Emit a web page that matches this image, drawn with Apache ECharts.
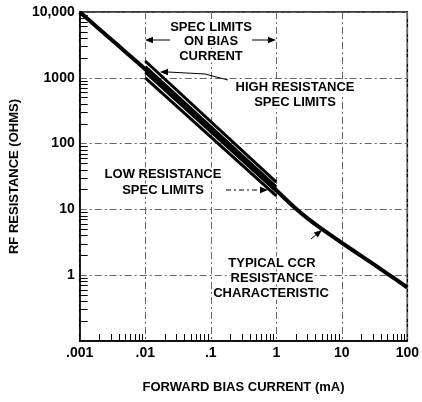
<!DOCTYPE html>
<html><head><meta charset="utf-8">
<script src="https://cdn.jsdelivr.net/npm/echarts@6/dist/echarts.min.js"></script>
<style>html,body{margin:0;padding:0;background:#fff}#c{width:422px;height:402px}</style>
</head><body><div id="c"></div>
<script>
// Typical CCR resistance characteristic (current mA, resistance ohms)
var curveCurrent = [0.001, 0.002, 0.003, 0.005, 0.01, 0.02, 0.05, 0.1, 0.2, 0.5, 1, 2, 3, 5, 10, 20, 50, 100];
var curveResistance = [10000, 5470, 3850, 2470, 1350, 713, 307, 162, 86, 37, 19.5, 10.2, 7.3, 5.0, 3.1, 1.95, 1.05, 0.65];
// Spec limit lines (between 0.01 mA and 1 mA)
var specCurrent = [0.01, 1];
var specHigh1 = [1800, 26];
var specHigh2 = [1480, 22];
var specLow1 = [1220, 19];
var specLow2 = [1000, 16];
// Axis ticks
var xTicks = [0.001, 0.01, 0.1, 1, 10, 100];
var xTickLabels = ['.001', '.01', '.1', '1', '10', '100'];
var yTicks = [1, 10, 100, 1000, 10000];
var yTickLabels = ['1', '10', '100', '1000', '10,000'];
var minorMultipliers = [2, 3, 4, 5, 6, 7, 8, 9];
var xDecades = [0.001, 0.01, 0.1, 1, 10];
var yDecades = [0.1, 1, 10, 100, 1000];

function pairs(xs, ys) { return xs.map(function (x, i) { return [x, ys[i]]; }); }
function minors(decades) {
  var out = [];
  decades.forEach(function (d) { minorMultipliers.forEach(function (m) { out.push(+(d * m).toPrecision(3)); }); });
  return out;
}
function lab(ticks, labels) {
  return function (v) {
    for (var i = 0; i < ticks.length; i++) if (Math.abs(Math.log10(v) - Math.log10(ticks[i])) < 1e-6) return labels[i];
    return '';
  };
}

var FONT = 'Liberation Sans';
var chart = echarts.init(document.getElementById('c'), null, { renderer: 'canvas' });

function arrow(x1, y1, x2, y2, dashed) {
  var a = Math.atan2(y2 - y1, x2 - x1), L = 8, W = 3.2;
  var bx = x2 - L * Math.cos(a), by = y2 - L * Math.sin(a);
  var px = -Math.sin(a) * W, py = Math.cos(a) * W;
  return [
    { type: 'line', shape: { x1: x1, y1: y1, x2: bx, y2: by }, style: { stroke: '#000', lineWidth: 1, lineDash: dashed ? [5, 3, 2, 3] : null }, z: 100 },
    { type: 'polygon', shape: { points: [[x2, y2], [bx + px, by + py], [bx - px, by - py]] }, style: { fill: '#000' }, z: 100 }
  ];
}
function txt(x, y, s) {
  return { type: 'text', x: x, y: y, z: 100, style: { text: s, fill: '#000', font: 'bold 13px "' + FONT + '"', textAlign: 'center', textVerticalAlign: 'middle', backgroundColor: '#fff' } };
}

var graphics = [];
graphics.push(txt(211, 27, 'SPEC LIMITS'));
graphics.push(txt(211, 41, 'ON BIAS'));
graphics.push(txt(211, 56, 'CURRENT'));
graphics = graphics.concat(arrow(170, 40, 145, 40));
graphics = graphics.concat(arrow(252, 40, 276, 40));
graphics.push(txt(295, 87, 'HIGH RESISTANCE'));
graphics.push(txt(295, 102, 'SPEC LIMITS'));
graphics.push({ type: 'polyline', z: 100, shape: { points: [[228, 80], [205, 74], [168, 72]] }, style: { stroke: '#000', lineWidth: 1, fill: null } });
graphics = graphics.concat(arrow(168, 72, 160, 72));
graphics.push(txt(163, 174, 'LOW RESISTANCE'));
graphics.push(txt(163, 190, 'SPEC LIMITS'));
graphics = graphics.concat(arrow(226, 190, 268, 190, true));
graphics.push(txt(272, 263, 'TYPICAL CCR'));
graphics.push(txt(272, 278, 'RESISTANCE'));
graphics.push(txt(271, 293, 'CHARACTERISTIC'));
graphics = graphics.concat(arrow(311, 239, 322, 230));

var gridLine = { show: true, lineStyle: { color: '#666', width: 1, type: [7, 3, 2, 3] } };

chart.setOption({
  animation: false,
  backgroundColor: '#fff',
  grid: { left: 77, right: 12, top: 12, bottom: 61, show: true, borderColor: '#000', borderWidth: 1.5, backgroundColor: 'transparent' },
  xAxis: [{
    type: 'log', logBase: 10, min: 0.001, max: 100,
    axisLine: { show: true, lineStyle: { color: '#000', width: 1.5 } },
    axisTick: { show: false },
    splitLine: gridLine,
    axisLabel: { color: '#000', fontFamily: FONT, fontWeight: 'bold', fontSize: 14, margin: 5, formatter: lab(xTicks, xTickLabels) },
    name: 'FORWARD BIAS CURRENT (mA)', nameLocation: 'middle', nameGap: 40,
    nameTextStyle: { color: '#000', fontFamily: FONT, fontWeight: 'bold', fontSize: 13 }
  }, {
    type: 'log', logBase: 10, min: 0.001, max: 100, position: 'bottom',
    axisLine: { show: false }, splitLine: { show: false }, axisLabel: { show: false },
    axisTick: { show: true, inside: true, length: 7, customValues: minors(xDecades), lineStyle: { color: '#000', width: 1 } }
  }],
  yAxis: [{
    type: 'log', logBase: 10, min: 0.1, max: 10000,
    axisLine: { show: true, lineStyle: { color: '#000', width: 1.5 } },
    axisTick: { show: false },
    splitLine: gridLine,
    axisLabel: { color: '#000', fontFamily: FONT, fontWeight: 'bold', fontSize: 14, margin: 5, formatter: lab(yTicks, yTickLabels) },
    name: 'RF RESISTANCE (OHMS)', nameLocation: 'middle', nameGap: 49, nameRotate: 90,
    nameTextStyle: { color: '#000', fontFamily: FONT, fontWeight: 'bold', fontSize: 13 }
  }, {
    type: 'log', logBase: 10, min: 0.1, max: 10000, position: 'left',
    axisLine: { show: false }, splitLine: { show: false }, axisLabel: { show: false },
    axisTick: { show: true, inside: true, length: 8, customValues: minors(yDecades), lineStyle: { color: '#000', width: 1 } }
  }],
  series: [
    { type: 'line', name: 'Typical', data: pairs(curveCurrent, curveResistance), smooth: 0.3, showSymbol: false, lineStyle: { color: '#000', width: 4 }, z: 3 },
    { type: 'line', name: 'High1', data: pairs(specCurrent, specHigh1), showSymbol: false, lineStyle: { color: '#000', width: 3 }, z: 4 },
    { type: 'line', name: 'High2', data: pairs(specCurrent, specHigh2), showSymbol: false, lineStyle: { color: '#000', width: 3 }, z: 4 },
    { type: 'line', name: 'Low1', data: pairs(specCurrent, specLow1), showSymbol: false, lineStyle: { color: '#000', width: 3 }, z: 4 },
    { type: 'line', name: 'Low2', data: pairs(specCurrent, specLow2), showSymbol: false, lineStyle: { color: '#000', width: 3 }, z: 4 }
  ],
  graphic: graphics
});
</script></body></html>
